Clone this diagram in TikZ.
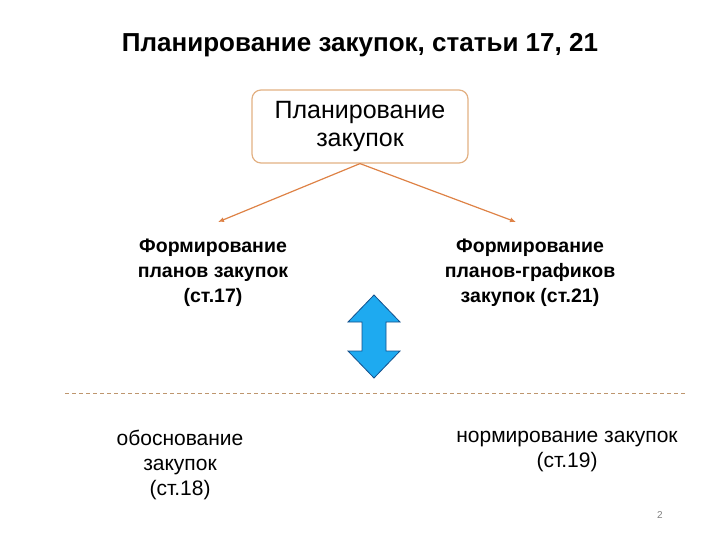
\documentclass[tikz,border=0pt]{standalone}
\usepackage{fontspec}
\setmainfont{Liberation Sans}
\usetikzlibrary{arrows.meta}
\begin{document}
\begin{tikzpicture}[x=1pt,y=-1pt,
  lbl/.style={align=center,font=\fontsize{19.5}{25}\selectfont\bfseries},
  lblr/.style={align=center,font=\fontsize{21}{25}\selectfont},
  conn/.style={draw={rgb,255:red,222;green,130;blue,70},line width=1.2pt,-{Latex[length=6pt,width=5pt]}}]
\useasboundingbox (0,0) rectangle (720,540);
\node[font=\fontsize{26}{30}\selectfont\bfseries] (title) at (360,45) {Планирование закупок, статьи 17, 21};
\node[draw={rgb,255:red,226;green,176;blue,130},line width=1.2pt,rounded corners=9pt,minimum width=216,minimum height=73,align=center,font=\fontsize{25}{28}\selectfont] (top) at (360,126.5) {Планирование\\закупок};
\node[lbl] (l) at (213,273) {Формирование\\планов закупок\\(ст.17)};
\node[lbl] (r) at (530,273) {Формирование\\планов-графиков\\закупок (ст.21)};
\coordinate (la) at (218,222);
\coordinate (ra) at (516,222);
\draw[conn] (top.south) -- (la);
\draw[conn] (top.south) -- (ra);
\node[lblr] (bl) at (180,465) {обоснование\\закупок\\(ст.18)};
\node[lblr] (br) at (567,452) {нормирование закупок\\(ст.19)};
\draw[fill={rgb,255:red,30;green,170;blue,240},draw={rgb,255:red,20;green,80;blue,140},line width=0.8pt]
 (374,295) -- (400,322) -- (386,322) -- (386,351) -- (400,351) -- (374,378) -- (348,351) -- (362,351) -- (362,322) -- (348,322) -- cycle;
\coordinate (d1) at (65,393); \coordinate (d2) at (685,393);
\draw[dash pattern=on 4pt off 3pt,draw={rgb,255:red,190;green,150;blue,110},line width=1pt] (d1) -- (d2);
\node[font=\fontsize{10}{12}\selectfont,text=gray] (pg) at (660,515) {2};
\end{tikzpicture}
\end{document}
